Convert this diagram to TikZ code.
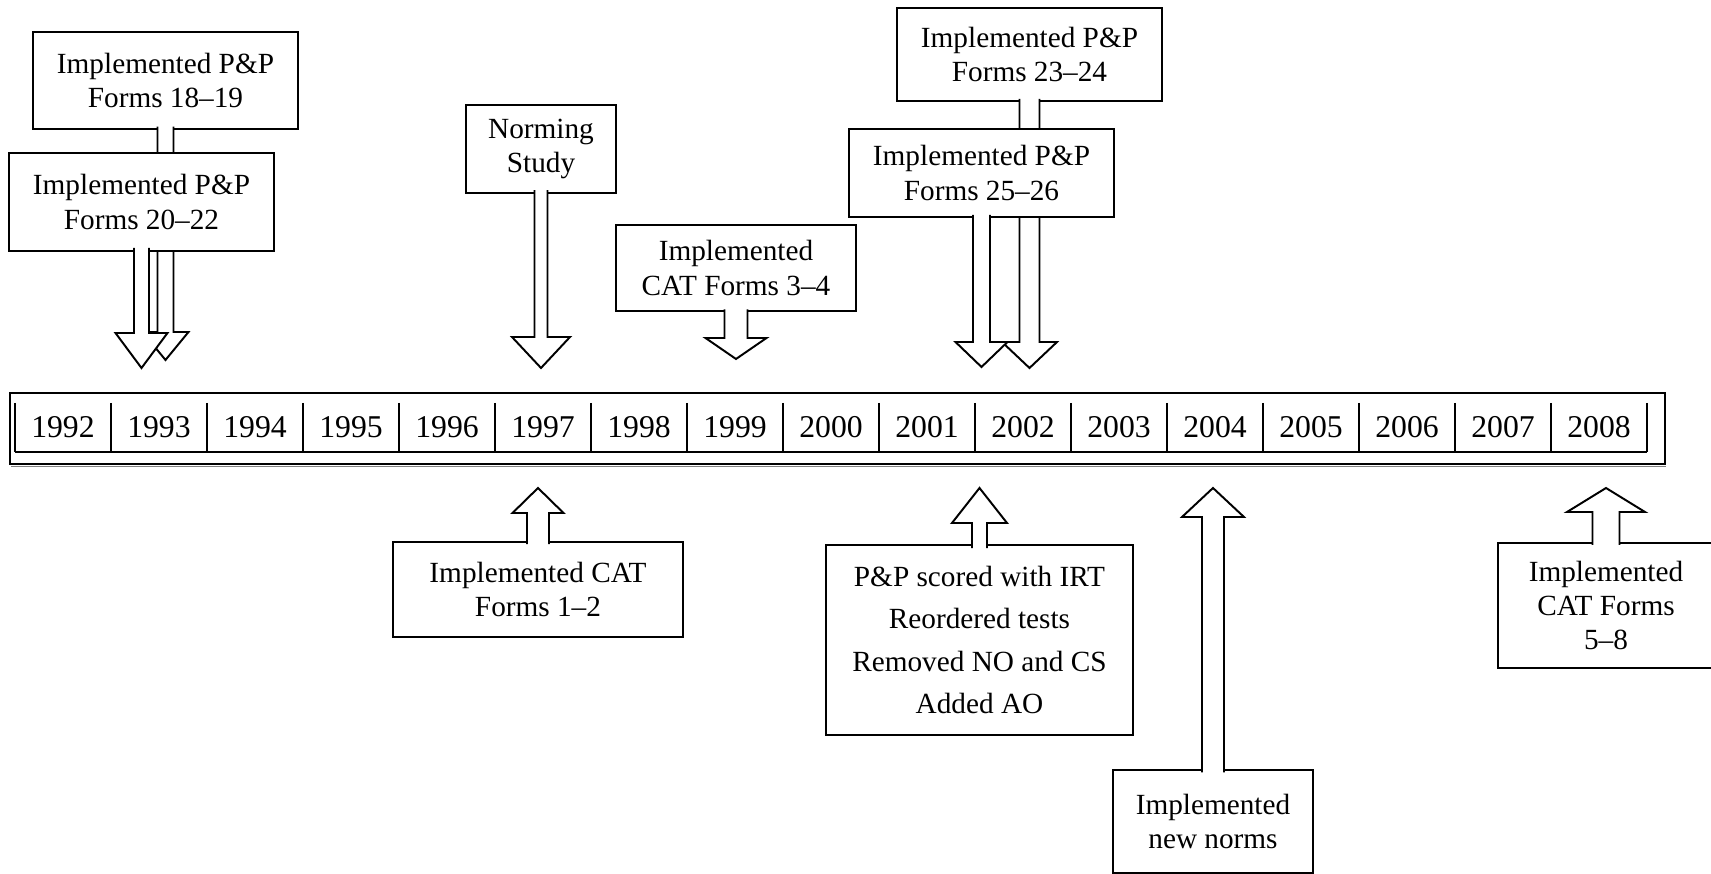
\documentclass[tikz,border=0pt]{standalone}
\usepackage{fontspec}
\setmainfont{Liberation Serif}
\usetikzlibrary{calc}
\tikzset{
  callbox/.style={draw, fill=white, line width=0.8pt, align=center, inner sep=0pt,
    font=\fontsize{12pt}{14pt}\selectfont},
  boxsize/.style 2 args={minimum width=#1*0.41pt, minimum height=#2*0.41pt},
  arrowbody/.style={draw, fill=white, line width=0.8pt, line join=miter},
  yearlbl/.style={font=\fontsize{13pt}{15pt}\selectfont, inner sep=0pt},
}
% hollow block arrow: start anchor, tip, stem half width, head half width, head length (signed)
\newcommand\blockarrow[5]{%
  \path[arrowbody] ($(#1)+(-#3,{0.12*(#5)})$) -- ($(#1 |- #2)+(-#3,#5)$)
    -- ($(#1 |- #2)+(-#4,#5)$) -- (#1 |- #2) -- ($(#1 |- #2)+(#4,#5)$)
    -- ($(#1 |- #2)+(#3,#5)$) -- ($(#1)+(#3,{0.12*(#5)})$);}
\begin{document}
\begin{tikzpicture}[x=0.41pt, y=-0.41pt, line width=0.8pt]
\useasboundingbox (0,0) rectangle (1711,874);
\clip (0,0) rectangle (1711,874);
% timeline
\draw (10,393) rectangle (1665,464);
\draw[gray, line width=0.6pt] (11,466.5) -- (1666,466.5);
\draw (15,452) -- (1647,452);
\foreach \i in {0,...,17}
  \draw (15+96*\i,403) -- (15+96*\i,452);
\foreach \yr [count=\i from 0] in {1992,...,2008}
  \node[yearlbl] (y\yr) at (63+96*\i,427.5) {\yr};
% events above the line
\node[callbox, boxsize={265}{97}] (pp1819) at (165.5,80.5) {Implemented P\&P\\Forms 18--19};
\coordinate (t1819) at (165.5,360);
\blockarrow{pp1819.south}{t1819}{8}{23}{-28}
\node[callbox, boxsize={265}{98}] (pp2022) at (141.5,202) {Implemented P\&P\\Forms 20--22};
\coordinate (t2022) at (141.5,368);
\blockarrow{pp2022.south}{t2022}{7.5}{26}{-35}
\node[callbox, boxsize={150}{88}] (norm) at (541,149) {Norming\\Study};
\coordinate (tnorm) at (541,368);
\blockarrow{norm.south}{tnorm}{6.5}{29}{-31}
\node[callbox, boxsize={240}{86}] (cat34) at (736,268) {Implemented\\CAT Forms 3--4};
\coordinate (tcat34) at (736,359);
\blockarrow{cat34.south}{tcat34}{11.5}{30.5}{-21}
\node[callbox, boxsize={265}{93}] (pp2324) at (1029.5,54.5) {Implemented P\&P\\Forms 23--24};
\coordinate (t2324) at (1029.5,368);
\blockarrow{pp2324.south}{t2324}{10}{27.5}{-26}
\node[callbox, boxsize={265}{88}] (pp2526) at (981.5,173) {Implemented P\&P\\Forms 25--26};
\coordinate (t2526) at (981.5,367);
\blockarrow{pp2526.south}{t2526}{8.5}{26}{-25}
% events below the line
\node[callbox, boxsize={290}{95}] (cat12) at (538,589.5) {Implemented CAT\\Forms 1--2};
\coordinate (tcat12) at (538,488);
\blockarrow{cat12.north}{tcat12}{11}{25.5}{25}
\node[callbox, boxsize={307}{190}, font=\fontsize{12pt}{17.3pt}\selectfont] (irt) at (979.5,640)
  {P\&P scored with IRT\\Reordered tests\\Removed NO and CS\\Added AO};
\coordinate (tirt) at (979.5,488);
\blockarrow{irt.north}{tirt}{7.5}{27.5}{35}
\node[callbox, boxsize={200}{103}] (newnorm) at (1213,821.5) {Implemented\\new norms};
\coordinate (tnewnorm) at (1213,488);
\blockarrow{newnorm.north}{tnewnorm}{11}{31}{29}
\node[callbox, boxsize={216}{125}] (cat58) at (1606,605.5) {Implemented\\CAT Forms\\5--8};
\coordinate (tcat58) at (1606,488);
\blockarrow{cat58.north}{tcat58}{13.5}{39}{24}
\end{tikzpicture}
\end{document}
